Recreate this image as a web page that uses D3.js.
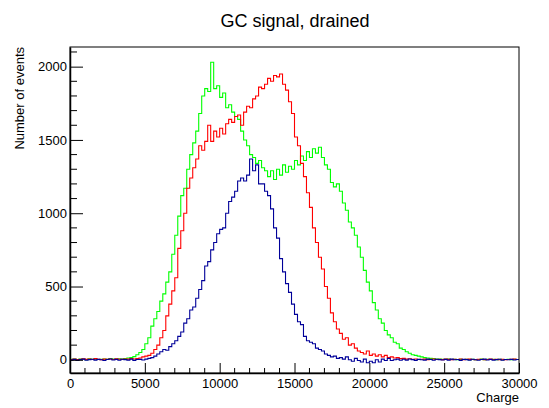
<!DOCTYPE html>
<html>
<head>
<meta charset="utf-8">
<script src="https://cdn.jsdelivr.net/npm/d3@7"></script>
<style>
  body { margin: 0; background: #fff; }
  text { font-family: "Liberation Sans", Arial, sans-serif; fill: #000; }
</style>
</head>
<body>
<div id="content"></div>
<script>
// bin width 200, 150 bins from 0 to 30000
const binWidth = 200;

const green = [
  3,5,2,6,4,1,7,3,5,2, 4,6,3,8,5,4,7,6,9,12,
  15,22,35,50,70,110,150,230,280,330, 400,450,530,600,720,850,980,1120,1170,1300,
  1400,1480,1560,1680,1800,1850,1830,2030,1850,1870, 1790,1820,1720,1740,1690,1660,1640,1560,1500,1460,
  1400,1380,1340,1360,1310,1290,1250,1290,1230,1300, 1260,1330,1280,1320,1300,1360,1330,1390,1360,1420,
  1380,1440,1410,1450,1380,1330,1300,1210,1180,1200, 1150,1070,1020,940,900,850,770,700,610,530,
  470,390,340,280,250,200,170,150,120,110, 80,70,55,45,35,30,25,20,15,12,
  10,8,6,5,4,3,5,2,4,1, 3,2,4,0,3,1,2,5,0,3,
  2,4,1,3,0,2,3,1,4,2
];

const red = [
  2,6,1,4,7,3,5,2,8,4, 1,5,3,6,2,7,4,3,6,5,
  8,6,9,12,20,25,30,45,70,100, 150,200,300,380,470,560,760,880,1000,1170,
  1240,1310,1370,1460,1430,1490,1600,1490,1560,1520, 1580,1540,1610,1640,1620,1660,1670,1600,1690,1730,
  1720,1780,1800,1860,1850,1880,1920,1900,1940,1930, 1950,1880,1840,1760,1680,1520,1460,1340,1250,1140,
  1040,900,800,700,620,500,420,320,260,210, 180,140,150,100,110,80,60,50,40,60,
  30,40,25,35,20,30,15,20,12,15, 8,10,5,7,3,6,2,4,5,1,
  3,6,2,4,1,5,3,0,4,2, 6,1,3,5,2,0,4,3,1,2,
  5,2,3,0,4,1,2,3,5,2
];

const blue = [
  -2,3,-4,2,5,-3,1,4,-2,3, 0,-5,2,6,-1,3,-3,4,1,-2,
  5,-4,2,3,-1,5,10,15,25,40, 55,70,65,90,110,130,160,190,250,280,
  340,360,420,480,540,640,670,750,800,860, 890,900,1000,1080,1110,1150,1220,1240,1220,1260,
  1370,1290,1330,1200,1200,1150,1120,1030,900,830, 690,600,520,460,380,310,260,240,160,130,
  120,110,80,70,60,40,30,20,25,10, 15,5,20,0,-10,10,-5,-15,5,-20,
  -10,-20,0,-15,5,-5,10,-5,0,5, -3,4,-2,6,1,-4,3,0,-2,5,
  2,-3,4,1,-1,3,-2,5,0,2, -4,3,1,-2,4,0,-3,2,5,-1,
  3,-2,1,4,-3,2,0,3,-1,2
];

const series = [
  { values: green, color: '#00ff00' },
  { values: red,   color: '#ff0000' },
  { values: blue,  color: '#000099' }
];

const xTicks = [0, 5000, 10000, 15000, 20000, 25000, 30000];
const yTicks = [0, 500, 1000, 1500, 2000];

const width = 549;
const height = 408;
const frame = { left: 70, right: 519, top: 47, bottom: 373 };

const x = d3.scaleLinear().domain([0, 30000]).range([frame.left, frame.right]);
const y = d3.scaleLinear().domain([-90, 2134]).range([frame.bottom, frame.top]);

const svg = d3.select('#content')
              .append('svg')
              .attr('width', width)
              .attr('height', height);

svg.append('text')
   .attr('x', 295)
   .attr('y', 27)
   .attr('text-anchor', 'middle')
   .style('font-size', '18px')
   .text('GC signal, drained');

const plot = svg.append('g');

// histograms as step lines
const line = d3.line()
               .x(d => x(d[0]))
               .y(d => y(d[1]))
               .curve(d3.curveStepAfter);

series.forEach(s => {
    const pts = s.values.map((v, i) => [i * binWidth, v]);
    pts.push([s.values.length * binWidth, s.values[s.values.length - 1]]);
    plot.append('path')
        .attr('d', line(pts))
        .attr('fill', 'none')
        .attr('stroke', s.color)
        .attr('stroke-width', 1.1);
});

// frame
svg.append('rect')
   .attr('x', frame.left)
   .attr('y', frame.top)
   .attr('width', frame.right - frame.left)
   .attr('height', frame.bottom - frame.top)
   .attr('fill', 'none')
   .attr('stroke', '#000')
   .attr('stroke-width', 1);

// x axis: ticks pointing up inside the frame
const xAxis = d3.axisBottom(x)
                .tickValues(xTicks)
                .tickFormat(d3.format('d'))
                .tickSizeInner(-10)
                .tickSizeOuter(0)
                .tickPadding(6);
const gx = svg.append('g')
              .attr('transform', 'translate(0,' + frame.bottom + ')')
              .call(xAxis);
gx.select('.domain').attr('stroke-width', 1.5);
gx.selectAll('.tick text').style('font-size', '13px').attr('font-family', null);

const xMinor = d3.range(0, 30001, 1000).filter(v => v % 5000 !== 0);
gx.selectAll('.minor')
  .data(xMinor)
  .enter()
  .append('line')
  .attr('x1', d => x(d))
  .attr('x2', d => x(d))
  .attr('y1', 0)
  .attr('y2', -5)
  .attr('stroke', '#000');

// y axis: ticks pointing right inside the frame
const yAxis = d3.axisLeft(y)
                .tickValues(yTicks)
                .tickFormat(d3.format('d'))
                .tickSizeInner(-13)
                .tickSizeOuter(0)
                .tickPadding(3);
const gy = svg.append('g')
              .attr('transform', 'translate(' + frame.left + ',0)')
              .call(yAxis);
gy.select('.domain').attr('stroke-width', 1.5);
gy.selectAll('.tick text').style('font-size', '13px').attr('font-family', null);

const yMinor = d3.range(0, 2101, 100).filter(v => v % 500 !== 0);
gy.selectAll('.minor')
  .data(yMinor)
  .enter()
  .append('line')
  .attr('x1', 0)
  .attr('x2', 7)
  .attr('y1', d => y(d))
  .attr('y2', d => y(d))
  .attr('stroke', '#000');

svg.append('text')
   .attr('x', frame.right)
   .attr('y', 402)
   .attr('text-anchor', 'end')
   .style('font-size', '13px')
   .text('Charge');

svg.append('text')
   .attr('transform', 'translate(24,' + frame.top + ') rotate(-90)')
   .attr('text-anchor', 'end')
   .style('font-size', '13px')
   .text('Number of events');
</script>
</body>
</html>
